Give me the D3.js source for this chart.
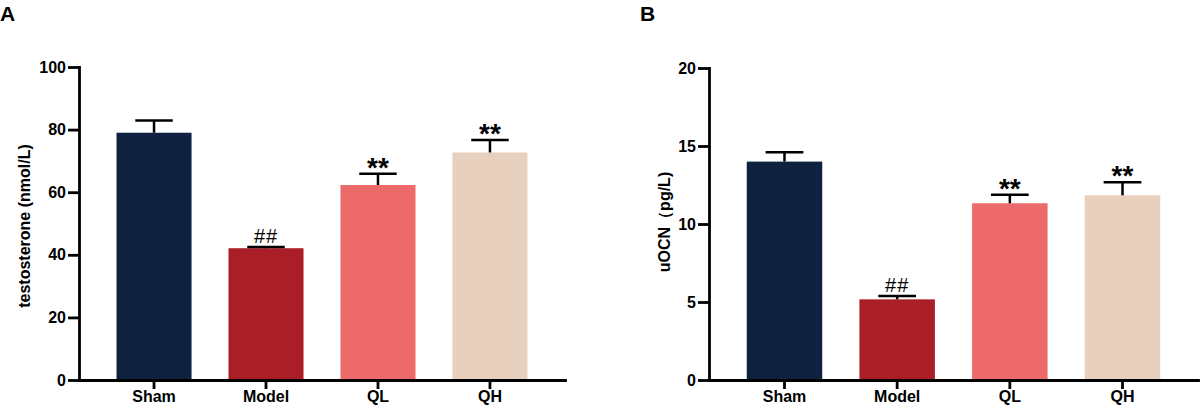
<!DOCTYPE html>
<html>
<head>
<meta charset="utf-8">
<script src="https://cdn.jsdelivr.net/npm/d3@7"></script>
<style>
  body { margin: 0; background: #fff; }
  text { font-family: "Liberation Sans", Arial, sans-serif; }
</style>
</head>
<body>
<script>
// values
const groups = ["Sham", "Model", "QL", "QH"];
const testosterone = [79.0, 42.1, 62.3, 72.7];
const testosteroneErr = [3.9, 0.4, 3.6, 4.0];
const uocn = [14.0, 5.17, 11.33, 11.84];
const uocnErr = [0.6, 0.21, 0.55, 0.83];
const marks = ["", "##", "**", "**"];
const ticksA = [0, 20, 40, 60, 80, 100];
const ticksB = [0, 5, 10, 15, 20];
const colors = ["#0e2240", "#aa1f27", "#ed6a6b", "#e8d0be"];

const svg = d3.select("body").append("svg")
  .attr("width", 1200)
  .attr("height", 406)
  .style("background", "#fff");

function drawPanel(opt) {
  const g = svg.append("g");

  const x = d3.scaleBand()
    .domain(groups)
    .range([opt.x0, opt.x1])
    .paddingInner(0.33)
    .paddingOuter(0.335);

  const y = d3.scaleLinear()
    .domain([0, opt.max])
    .range([380, opt.top]);

  // bars
  g.selectAll("rect.bar")
    .data(groups)
    .enter()
    .append("rect")
    .attr("class", "bar")
    .attr("x", d => x(d))
    .attr("y", (d, i) => y(opt.values[i]))
    .attr("width", x.bandwidth())
    .attr("height", (d, i) => y(0) - y(opt.values[i]))
    .attr("fill", (d, i) => colors[i]);

  // error bars, upward only
  const err = g.selectAll("g.err")
    .data(groups)
    .enter()
    .append("g")
    .attr("class", "err")
    .attr("stroke", "#000")
    .attr("stroke-width", 2.5);

  err.append("line")
    .attr("x1", d => x(d) + x.bandwidth() / 2)
    .attr("x2", d => x(d) + x.bandwidth() / 2)
    .attr("y1", (d, i) => y(opt.values[i]))
    .attr("y2", (d, i) => y(opt.values[i] + opt.errs[i]));

  err.append("line")
    .attr("x1", d => x(d) + x.bandwidth() / 4)
    .attr("x2", d => x(d) + x.bandwidth() * 3 / 4)
    .attr("y1", (d, i) => y(opt.values[i] + opt.errs[i]))
    .attr("y2", (d, i) => y(opt.values[i] + opt.errs[i]));

  // significance marks
  g.selectAll("text.mark")
    .data(groups)
    .enter()
    .append("text")
    .attr("class", "mark")
    .attr("x", d => x(d) + x.bandwidth() / 2)
    .attr("y", (d, i) => {
      const cap = y(opt.values[i] + opt.errs[i]);
      return marks[i] == "##" ? cap - 4 : cap + 3;
    })
    .attr("text-anchor", "middle")
    .style("font-size", (d, i) => marks[i] == "##" ? "20px" : "28px")
    .style("font-weight", (d, i) => marks[i] == "##" ? "normal" : "bold")
    .style("letter-spacing", (d, i) => marks[i] == "##" ? "1px" : "0px")
    .text((d, i) => marks[i]);

  // axes
  const yAxis = d3.axisLeft(y)
    .tickValues(opt.ticks)
    .tickSize(11)
    .tickSizeOuter(0)
    .tickPadding(2);

  const gY = g.append("g")
    .attr("transform", "translate(" + opt.x0 + ",0)")
    .call(yAxis);

  const xAxis = d3.axisBottom(x)
    .tickSize(9)
    .tickSizeOuter(0)
    .tickPadding(2);

  const gX = g.append("g")
    .attr("transform", "translate(0,380)")
    .call(xAxis);

  [gY, gX].forEach(a => {
    a.selectAll("path, line").attr("stroke", "#000").attr("stroke-width", 2.8);
    a.select("path").attr("stroke-linecap", "square");
    a.selectAll("text")
      .attr("fill", "#000")
      .style("font-size", "16px")
      .style("font-weight", "bold")
      .style("font-family", "'Liberation Sans', Arial, sans-serif");
  });

  // axis title
  g.append("text")
    .attr("transform", "translate(" + opt.labelX + "," + opt.labelY + ") rotate(-90)")
    .attr("text-anchor", "middle")
    .attr("dy", "0.35em")
    .style("font-size", "16px")
    .style("font-weight", "bold")
    .text(opt.label);

  // panel letter
  g.append("text")
    .attr("x", opt.letterX)
    .attr("y", 21)
    .style("font-size", "21px")
    .style("font-weight", "bold")
    .text(opt.letter);
}

drawPanel({
  x0: 79, x1: 565, top: 67, max: 100,
  values: testosterone, errs: testosteroneErr, ticks: ticksA,
  label: "testosterone (nmol/L)", labelX: 24, labelY: 226,
  letter: "A", letterX: 0
});

drawPanel({
  x0: 709, x1: 1198, top: 68, max: 20,
  values: uocn, errs: uocnErr, ticks: ticksB,
  label: "uOCN（pg/L)", labelX: 664, labelY: 222,
  letter: "B", letterX: 640
});
</script>
</body>
</html>
